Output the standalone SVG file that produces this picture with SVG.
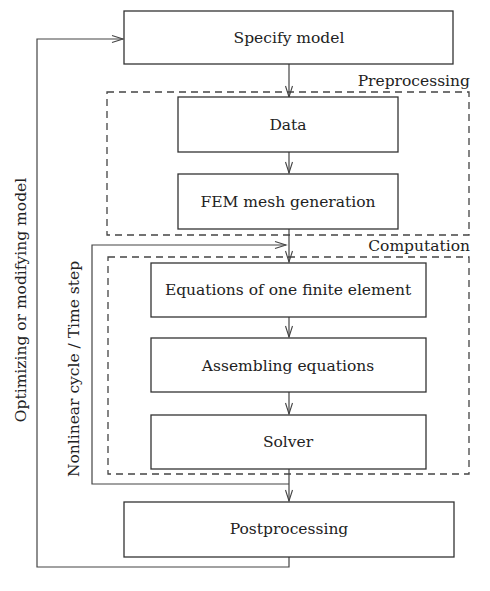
<svg xmlns="http://www.w3.org/2000/svg" width="490" height="591" viewBox="0 0 490 591">
<style>
.box{fill:#fff;stroke:#333;stroke-width:1.3}
.grp{fill:none;stroke:#444;stroke-width:1.3;stroke-dasharray:7,5}
.ln{fill:none;stroke:#444;stroke-width:1.2}
.ah{fill:none;stroke:#444;stroke-width:1.1}
text{font-family:"DejaVu Serif", "Liberation Serif", serif;font-size:15.5px;fill:#222}
.c{text-anchor:middle}
.r{text-anchor:end}
</style>
<defs>
<marker id="arr" markerWidth="14" markerHeight="10" refX="12" refY="5" orient="auto" markerUnits="userSpaceOnUse">
<path d="M1,1.5 L12,5 L1,8.5" class="ah"/>
</marker>
</defs>
<rect x="0" y="0" width="490" height="591" fill="#fff"/>
<g id="groups">
<rect id="preprocessing" class="grp" x="107" y="92" width="362" height="143"/>
<text class="r" x="470" y="86">Preprocessing</text>
<rect id="computation" class="grp" x="108" y="257" width="361" height="217"/>
<text class="r" x="470" y="251">Computation</text>
</g>
<g id="connectors">
<line class="ln" x1="289" y1="64" x2="289" y2="97" marker-end="url(#arr)"/>
<line class="ln" x1="289" y1="152" x2="289" y2="173" marker-end="url(#arr)"/>
<polyline class="ln" points="289,229 289,262" marker-end="url(#arr)"/>
<line class="ln" x1="289" y1="317" x2="289" y2="337" marker-end="url(#arr)"/>
<line class="ln" x1="289" y1="392" x2="289" y2="414" marker-end="url(#arr)"/>
<polyline class="ln" points="289,469 289,501" marker-end="url(#arr)"/>
<polyline class="ln" points="289,484 92,484 92,245 286,245" marker-end="url(#arr)"/>
<polyline class="ln" points="289,557 289,567 37,567 37,39 123,39" marker-end="url(#arr)"/>
<text class="c" transform="translate(26,300) rotate(-90)">Optimizing or modifying model</text>
<text class="c" transform="translate(79,369) rotate(-90)">Nonlinear cycle / Time step</text>
</g>
<g id="specify">
<rect class="box" x="124" y="11" width="329" height="53"/>
<text class="c" x="289" y="43">Specify model</text>
</g>
<g id="data">
<rect class="box" x="178" y="97" width="220" height="55"/>
<text class="c" x="288" y="130">Data</text>
</g>
<g id="fem">
<rect class="box" x="178" y="174" width="220" height="55"/>
<text class="c" x="288" y="207">FEM mesh generation</text>
</g>
<g id="equations">
<rect class="box" x="151" y="263" width="275" height="54"/>
<text class="c" x="288" y="295">Equations of one finite element</text>
</g>
<g id="assembling">
<rect class="box" x="151" y="338" width="275" height="54"/>
<text class="c" x="288" y="371">Assembling equations</text>
</g>
<g id="solver">
<rect class="box" x="151" y="415" width="275" height="54"/>
<text class="c" x="288" y="447">Solver</text>
</g>
<g id="postprocessing">
<rect class="box" x="124" y="502" width="330" height="55"/>
<text class="c" x="289" y="534">Postprocessing</text>
</g>
</svg>
